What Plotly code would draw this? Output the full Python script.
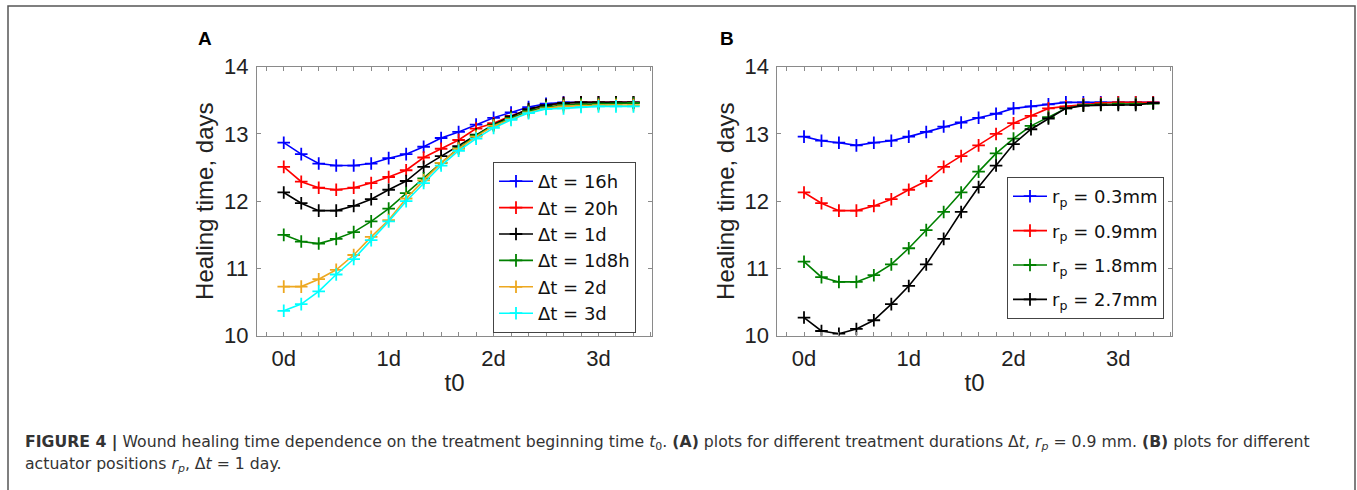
import plotly.graph_objects as go

W, H = 1357, 490

# t0 sample times (hours)
t0_hours = [0, 4, 8, 12, 16, 20, 24, 28, 32, 36, 40, 44, 48, 52, 56, 60, 64, 68, 72, 76, 80]

# Panel A: different treatment durations (rp = 0.9 mm)
a_names = ["Δt = 16h", "Δt = 20h", "Δt = 1d", "Δt = 1d8h", "Δt = 2d", "Δt = 3d"]
a_colors = ["#0000FF", "#FF0000", "#000000", "#008000", "#EDA820", "#00FFFF"]
a_16h = [12.87, 12.70, 12.56, 12.53, 12.53, 12.56, 12.64, 12.70, 12.81, 12.94, 13.03,
         13.14, 13.24, 13.32, 13.40, 13.45, 13.47, 13.47, 13.47, 13.47, 13.47]
a_20h = [12.51, 12.29, 12.20, 12.17, 12.20, 12.27, 12.36, 12.46, 12.65, 12.78, 12.91,
         13.08, 13.16, 13.27, 13.36, 13.42, 13.46, 13.47, 13.47, 13.47, 13.47]
a_1d = [12.13, 11.97, 11.86, 11.86, 11.93, 12.03, 12.17, 12.30, 12.51, 12.67, 12.82,
        12.99, 13.14, 13.26, 13.37, 13.43, 13.46, 13.47, 13.47, 13.47, 13.47]
a_1d8h = [11.50, 11.40, 11.37, 11.44, 11.54, 11.70, 11.89, 12.12, 12.34, 12.57, 12.79,
          12.98, 13.13, 13.24, 13.34, 13.40, 13.43, 13.44, 13.45, 13.45, 13.46]
a_2d = [10.73, 10.73, 10.84, 10.98, 11.20, 11.47, 11.72, 12.04, 12.31, 12.57, 12.78,
        12.96, 13.12, 13.22, 13.32, 13.38, 13.41, 13.42, 13.43, 13.43, 13.43]
a_3d = [10.37, 10.47, 10.66, 10.91, 11.14, 11.42, 11.70, 12.00, 12.27, 12.53, 12.75,
        12.93, 13.09, 13.21, 13.31, 13.37, 13.38, 13.40, 13.41, 13.41, 13.41]
a_series = [a_16h, a_20h, a_1d, a_1d8h, a_2d, a_3d]

# Panel B: different actuator positions (dt = 1 day)
b_names = ["r<sub>p</sub> = 0.3mm", "r<sub>p</sub> = 0.9mm", "r<sub>p</sub> = 1.8mm", "r<sub>p</sub> = 2.7mm"]
b_colors = ["#0000FF", "#FF0000", "#008000", "#000000"]
b_03 = [12.96, 12.90, 12.87, 12.83, 12.87, 12.90, 12.96, 13.03, 13.11, 13.17, 13.24,
        13.30, 13.38, 13.41, 13.44, 13.47, 13.47, 13.47, 13.47, 13.47, 13.47]
b_09 = [12.13, 11.97, 11.86, 11.86, 11.93, 12.03, 12.17, 12.30, 12.51, 12.67, 12.83,
        13.00, 13.16, 13.27, 13.38, 13.41, 13.44, 13.46, 13.47, 13.47, 13.47]
b_18 = [11.10, 10.87, 10.80, 10.80, 10.90, 11.06, 11.30, 11.57, 11.84, 12.13, 12.44,
        12.71, 12.93, 13.12, 13.25, 13.38, 13.43, 13.44, 13.45, 13.45, 13.45]
b_27 = [10.27, 10.07, 10.03, 10.10, 10.23, 10.47, 10.74, 11.06, 11.44, 11.84, 12.21,
        12.53, 12.85, 13.07, 13.23, 13.38, 13.42, 13.43, 13.43, 13.43, 13.46]
b_series = [b_03, b_09, b_18, b_27]

# axis ticks
x_tick_days = [0, 1, 2, 3]
x_tick_text = ["0d", "1d", "2d", "3d"]
x_minor_step_days = 1 / 6
y_ticks = [10, 11, 12, 13, 14]

t0_days = [h / 24 for h in t0_hours]

FONT = "Liberation Sans, Arial, Helvetica, sans-serif"
WIDE = "DejaVu Sans, Verdana, sans-serif"
FRAME = "#8a8a8a"

fig = go.Figure()

for name, col, ys in zip(a_names, a_colors, a_series):
    fig.add_trace(go.Scatter(
        x=t0_days, y=ys, name=name, mode="lines+markers",
        line=dict(color=col, width=1.6),
        marker=dict(symbol="cross-thin", size=9, line=dict(color=col, width=1.8)),
        xaxis="x", yaxis="y", legend="legend"))

for i, (name, col, ys) in enumerate(zip(b_names, b_colors, b_series)):
    fig.add_trace(go.Scatter(
        x=t0_days, y=ys, name=name, mode="lines+markers",
        line=dict(color=col, width=1.6),
        marker=dict(symbol="cross-thin", size=9, line=dict(color=col, width=1.8)),
        xaxis="x2", yaxis="y2", legend="legend2", legendgroup=f"b{i}"))

def px_x(p):
    return p / W

def px_y(p):
    return 1 - p / H

ydom = [px_y(335.7), px_y(66.7)]

common_x = dict(
    range=[-0.255, 3.51], tickmode="array",
    tickvals=x_tick_days, ticktext=x_tick_text,
    ticks="inside", ticklen=4, tickwidth=1, tickcolor=FRAME,
    minor=dict(tick0=0, dtick=x_minor_step_days, ticks="inside", ticklen=4,
               tickwidth=1, tickcolor=FRAME, showgrid=False),
    showline=True, linecolor=FRAME, linewidth=1, mirror="allticks",
    showgrid=False, zeroline=False,
    tickfont=dict(family=FONT, size=22, color="#222222"),
    ticklabelstandoff=3,
    title=dict(text="t0", font=dict(family=FONT, size=24, color="#222222"), standoff=4),
    automargin=False,
)
common_y = dict(
    range=[10, 14], tickmode="array", tickvals=y_ticks,
    ticktext=[str(v) for v in y_ticks],
    ticks="inside", ticklen=4, tickwidth=1, tickcolor=FRAME,
    showline=True, linecolor=FRAME, linewidth=1, mirror="allticks",
    showgrid=False, zeroline=False,
    tickfont=dict(family=FONT, size=22, color="#222222"),
    ticklabelstandoff=3,
    title=dict(text="Healing time, days", font=dict(family=FONT, size=24, color="#222222"), standoff=3),
    automargin=False,
    domain=ydom,
)

legend_common = dict(
    bgcolor="white", bordercolor="#444444", borderwidth=1,
    font=dict(family=WIDE, size=18, color="#111111"),
    xanchor="left", yanchor="top", itemwidth=34,
    itemclick=False, itemdoubleclick=False,
)

fig.update_layout(
    width=W, height=H,
    margin=dict(l=0, r=0, t=0, b=0),
    paper_bgcolor="white", plot_bgcolor="white",
    showlegend=True,
    xaxis=dict(domain=[px_x(257), px_x(652)], anchor="y", **common_x),
    yaxis=dict(anchor="x", **common_y),
    xaxis2=dict(domain=[px_x(777.3), px_x(1171.7)], anchor="y2", **common_x),
    yaxis2=dict(anchor="x2", **common_y),
    legend=dict(x=px_x(493), y=px_y(162), tracegroupgap=0, **legend_common),
    legend2=dict(x=px_x(1007), y=px_y(177), tracegroupgap=8, **legend_common),
    font=dict(family=FONT),
)

# panel labels
fig.add_annotation(text="<b>A</b>", x=px_x(205), y=px_y(38), xref="paper", yref="paper",
                   showarrow=False, xanchor="center", yanchor="middle",
                   font=dict(family=FONT, size=19, color="#000000"))
fig.add_annotation(text="<b>B</b>", x=px_x(727), y=px_y(38), xref="paper", yref="paper",
                   showarrow=False, xanchor="center", yanchor="middle",
                   font=dict(family=FONT, size=19, color="#000000"))

# caption
cap1 = ("<b>FIGURE 4 |</b> Wound healing time dependence on the treatment beginning time "
        "<i>t</i><sub>0</sub>. <b>(A)</b> plots for different treatment durations Δ<i>t</i>, "
        "<i>r<sub>p</sub></i> = 0.9 mm. <b>(B)</b> plots for different")
cap2 = "actuator positions <i>r<sub>p</sub></i>, Δ<i>t</i> = 1 day."
fig.add_annotation(text=cap1, x=px_x(23), y=px_y(442), xref="paper", yref="paper",
                   showarrow=False, xanchor="left", yanchor="middle",
                   font=dict(family=WIDE, size=15.7, color="#333333"))
fig.add_annotation(text=cap2, x=px_x(23), y=px_y(464), xref="paper", yref="paper",
                   showarrow=False, xanchor="left", yanchor="middle",
                   font=dict(family=WIDE, size=15.7, color="#333333"))

# outer frame (open at the bottom)
x0, x1 = px_x(8), px_x(1355)
y0, y1 = px_y(495), px_y(6)
fig.add_shape(type="path", xref="paper", yref="paper",
              path=f"M {x0},{y0} L {x0},{y1} L {x1},{y1} L {x1},{y0}",
              line=dict(color="#555555", width=1.5))

fig.write_html("out.html", config={"displayModeBar": False},
               post_script="document.body.style.margin='0px';")
